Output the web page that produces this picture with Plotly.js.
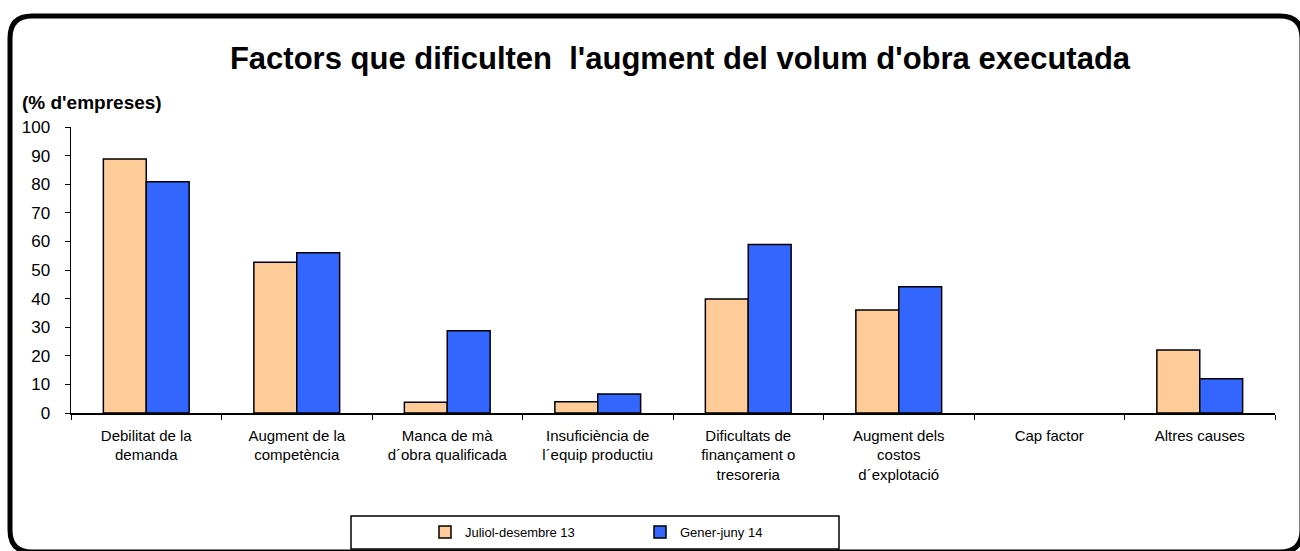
<!DOCTYPE html>
<html>
<head>
<meta charset="utf-8">
<script src="https://cdn.plot.ly/plotly-3.0.1.min.js"></script>
<style>
  body { margin: 0; background: #fff; }
  #chart { width: 1300px; height: 551px; }
</style>
</head>
<body>
<div id="chart"></div>
<script>
document.addEventListener('DOMContentLoaded', () => {
    const categories = [
        'Debilitat de la<br>demanda',
        'Augment de la<br>competència',
        'Manca de mà<br>d´obra qualificada',
        'Insuficiència de<br>l´equip productiu',
        'Dificultats de<br>finançament o<br>tresoreria',
        'Augment dels<br>costos<br>d´explotació',
        'Cap factor',
        'Altres causes'
    ];
    const seriesNames = ['Juliol-desembre 13', 'Gener-juny 14'];
    const julDes13 = [88.8, 52.7, 3.8, 3.9, 39.9, 36.0, 0, 22.0];
    const generJuny14 = [80.9, 56.0, 28.8, 6.6, 58.9, 44.1, 0, 12.0];
    const yTicks = [0, 10, 20, 30, 40, 50, 60, 70, 80, 90, 100];

    // plot area in pixels, used to place the frame and labels
    const L = 71, T = 127, W = 1204, H = 286;
    const px = (x) => (x - L) / W;
    const py = (y) => (T + H - y) / H;

    function roundRect(x0, y0, x1, y1, r) {
        return `M${px(x0 + r)},${py(y0)} L${px(x1 - r)},${py(y0)} Q${px(x1)},${py(y0)} ${px(x1)},${py(y0 + r)}` +
            ` L${px(x1)},${py(y1 - r)} Q${px(x1)},${py(y1)} ${px(x1 - r)},${py(y1)}` +
            ` L${px(x0 + r)},${py(y1)} Q${px(x0)},${py(y1)} ${px(x0)},${py(y1 - r)}` +
            ` L${px(x0)},${py(y0 + r)} Q${px(x0)},${py(y0)} ${px(x0 + r)},${py(y0)} Z`;
    }

    const font = 'Liberation Sans, Arial, sans-serif';
    // no outline on empty bars (Cap factor)
    const outline = (vals) => vals.map((v) => v > 0 ? 1.5 : 0);

    const traces = [
        {x: categories, y: julDes13, name: seriesNames[0], type: 'bar',
         marker: {color: '#FFCC99', line: {color: '#000', width: outline(julDes13)}}},
        {x: categories, y: generJuny14, name: seriesNames[1], type: 'bar',
         marker: {color: '#3366FF', line: {color: '#000', width: outline(generJuny14)}}}
    ];

    const layout = {
        width: 1300, height: 551,
        margin: {l: L, r: 1300 - L - W, t: T, b: 551 - T - H, autoexpand: false},
        paper_bgcolor: '#fff', plot_bgcolor: '#fff',
        font: {family: font, color: '#000', size: 14},
        title: {text: "<b>Factors que dificulten  l'augment del volum d'obra executada</b>",
                font: {size: 31, family: font, color: '#000'},
                x: 680 / 1300, xanchor: 'center', xref: 'container',
                y: 1 - 58 / 551, yanchor: 'middle', yref: 'container'},
        barmode: 'group', bargap: 0.43, bargroupgap: 0,
        showlegend: true,
        legend: {orientation: 'h', x: px(425), xanchor: 'left', y: py(532), yanchor: 'middle',
                 entrywidth: 170, entrywidthmode: 'pixels', traceorder: 'normal',
                 font: {size: 13, family: font}, bgcolor: 'rgba(0,0,0,0)', borderwidth: 0},
        xaxis: {type: 'category', showline: true, linecolor: '#000', linewidth: 1.5,
                ticks: 'outside', tickson: 'boundaries', ticklen: 5, tickcolor: '#000',
                ticklabelstandoff: 8, automargin: false,
                showgrid: false, zeroline: false, tickfont: {size: 15}, fixedrange: true},
        yaxis: {range: [0, 100], tickvals: yTicks, ticks: 'outside', ticklen: 5, tickcolor: '#000',
                ticklabelstandoff: 11, automargin: false,
                showline: true, linecolor: '#000', linewidth: 1.5, showgrid: false, zeroline: false,
                tickfont: {size: 17}, fixedrange: true},
        annotations: [
            {text: "<b>(% d'empreses)</b>", xref: 'paper', yref: 'paper', x: px(20), y: py(103),
             xanchor: 'left', yanchor: 'middle', showarrow: false, font: {size: 19, family: font}}
        ],
        shapes: [
            {type: 'path', xref: 'paper', yref: 'paper', path: roundRect(10, 16, 1302, 552, 22),
             line: {color: '#000', width: 5}},
            {type: 'rect', xref: 'paper', yref: 'paper', x0: px(351), x1: px(839), y0: py(516), y1: py(549),
             line: {color: '#000', width: 1.5}}
        ]
    };

    Plotly.newPlot('chart', traces, layout, {displayModeBar: false, staticPlot: true});
});
</script>
</body>
</html>
